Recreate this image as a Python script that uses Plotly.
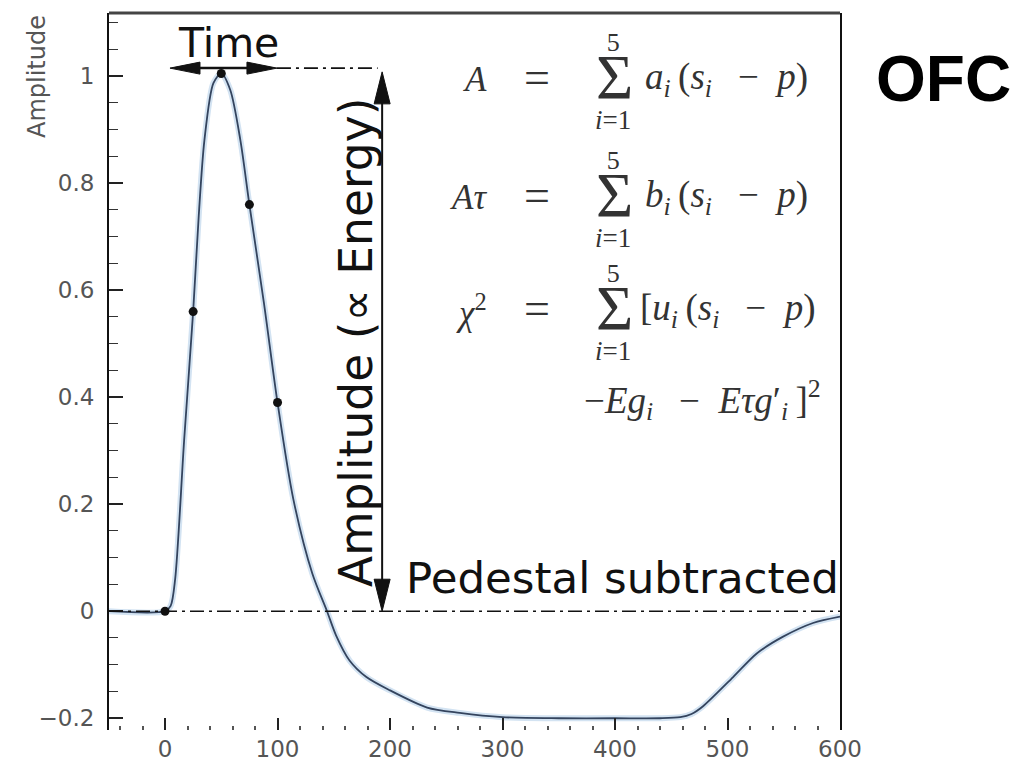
import plotly.graph_objects as go

# Pulse shape (time in ns, normalised amplitude)
pulse_t = [-50, 0, 5, 9, 17, 25, 30, 35, 43, 50, 58, 67, 75, 88, 100,
           114, 131, 144, 152, 164, 179, 200, 233, 262, 300, 350, 400, 440,
           458, 468, 478, 505, 526, 549, 576, 600]
pulse_amp = [0, 0, 0.01, 0.06, 0.32, 0.56, 0.74, 0.88, 0.987,
             1.005, 0.974, 0.88, 0.76, 0.575, 0.39, 0.21, 0.07, 0.0, -0.045,
             -0.092, -0.123, -0.148, -0.18, -0.19, -0.198, -0.2, -0.2, -0.2,
             -0.198, -0.192, -0.178, -0.123, -0.079, -0.048, -0.022, -0.01]

# The five digitised samples
sample_t = [0, 25, 50, 75, 100]
sample_amp = [0, 0.56, 1.005, 0.76, 0.39]

x_tickvals = [0, 100, 200, 300, 400, 500, 600]
x_ticktext = ["0", "100", "200", "300", "400", "500", "600"]
y_tickvals = [-0.2, 0, 0.2, 0.4, 0.6, 0.8, 1]
y_ticktext = ["\u22120.2", "0", "0.2", "0.4", "0.6", "0.8", "1"]

X_RANGE = [-49.8, 600]
Y_RANGE = [-0.222, 1.118]

# Annotation geometry (data units)
ARROW_X = 193          # vertical amplitude arrow
PEAK_LEVEL = 1.015     # horizontal time arrow / dash-dot guide
TIME_LEFT, TIME_RIGHT = 4.4, 99.5

W, H = 1017, 763
L, R, T, B = 109, 840, 13, 730


def px(x):
    return (x - L) / (R - L)


def py(y):
    return (B - y) / (B - T)


INK = "#111111"
EQ = "#333333"
SANS = "DejaVu Sans"
SERIF = "Liberation Serif"

fig = go.Figure()

# soft halo under the pulse
fig.add_trace(go.Scatter(x=pulse_t, y=pulse_amp, mode="lines",
                         line=dict(color="#d3e3f2", width=6, shape="spline",
                                   smoothing=0.8),
                         hoverinfo="skip", showlegend=False))
fig.add_trace(go.Scatter(x=pulse_t, y=pulse_amp, mode="lines",
                         line=dict(color="#34445e", width=1.8, shape="spline",
                                   smoothing=0.8),
                         showlegend=False))
fig.add_trace(go.Scatter(x=sample_t, y=sample_amp, mode="markers",
                         marker=dict(color="#111111", size=9),
                         showlegend=False))

DASHDOT = "14px,5px,3px,5px"
shapes = [
    # top frame edge
    dict(type="line", xref="paper", yref="paper", x0=0, x1=1, y0=1, y1=1,
         line=dict(color="#444444", width=3)),
    # pedestal level
    dict(type="line", xref="x", yref="y", x0=X_RANGE[0], x1=600, y0=0, y1=0,
         line=dict(color=INK, width=1.6, dash=DASHDOT)),
    # peak level guide
    dict(type="line", xref="x", yref="y", x0=TIME_RIGHT, x1=ARROW_X - 4,
         y0=PEAK_LEVEL, y1=PEAK_LEVEL,
         line=dict(color=INK, width=1.6, dash=DASHDOT)),
    # time arrow shaft
    dict(type="line", xref="x", yref="y", x0=TIME_LEFT + 20, x1=TIME_RIGHT - 20,
         y0=PEAK_LEVEL, y1=PEAK_LEVEL, line=dict(color=INK, width=2.5)),
    # amplitude arrow shaft
    dict(type="line", xref="x", yref="y", x0=ARROW_X, x1=ARROW_X,
         y0=0.04, y1=0.97, line=dict(color=INK, width=2)),
]

# arrow heads, sized in pixels around their tips
heads = [
    (TIME_LEFT, PEAK_LEVEL, "M0,0 L30,6 L30,-6 Z"),
    (TIME_RIGHT, PEAK_LEVEL, "M0,0 L-30,6 L-30,-6 Z"),
    (ARROW_X, 1.008, "M0,0 L-8,-32 L8,-32 Z"),
    (ARROW_X, 0.0, "M0,0 L-8,32 L8,32 Z"),
]
for hx, hy, path in heads:
    shapes.append(dict(type="path", xref="x", yref="y", xsizemode="pixel",
                       ysizemode="pixel", xanchor=hx, yanchor=hy, path=path,
                       fillcolor=INK, line=dict(color=INK, width=1)))

ann = []


def text(x, y, s, size, family=SANS, color=INK, xanchor="center",
         angle=0, **kw):
    ann.append(dict(xref="paper", yref="paper", x=px(x), y=py(y), text=s,
                    showarrow=False, xanchor=xanchor, yanchor="middle",
                    textangle=angle,
                    font=dict(family=family, size=size, color=color), **kw))


text(228, 43, "Time", 41)
text(356, 343, "Amplitude (\u221d Energy)", 45.5, angle=-90)
text(404, 578, "Pedestal subtracted", 43.5, xanchor="left")
text(943, 79, "<b>OFC</b>", 64, family="Liberation Sans", color="#000000")
text(37, 77, "Amplitude", 24, color="#555555", angle=-90)

# estimator formulas
MINUS = "\u2002\u2212\u2002"
SUB_I = "<sub><i>i</i></sub>\u2009"
rows = [
    (80, "<i>A</i>", f"<i>a</i>{SUB_I}(<i>s</i>{SUB_I}{MINUS}<i>p</i>)", 643),
    (197, "<i>A\u03c4</i>", f"<i>b</i>{SUB_I}(<i>s</i>{SUB_I}{MINUS}<i>p</i>)", 643),
    (310, "<i>\u03c7</i><sup>2</sup>", f"[<i>u</i>{SUB_I}(<i>s</i>{SUB_I}{MINUS}<i>p</i>)", 638),
]
# summation limits: upper bound, blank line for the sigma, lower bound
LIMITS = ("<span style='font-size:26px'>5</span><br>\u00a0<br>"
          "<span style='font-size:27px'><i>i</i>=1</span>")
for yy, lhs, rhs, rx in rows:
    text(489, yy, lhs, 35, family=SERIF, color=EQ, xanchor="right")
    text(537, yy - 2, "=", 46, family=SERIF, color=EQ)
    text(614, yy - 2, "\u03a3", 64, family=SERIF, color=EQ)
    text(613, yy + 2, LIMITS, 30, family=SERIF, color=EQ)
    text(rx, yy, rhs, 37, family=SERIF, color=EQ, xanchor="left")
text(582, 400, f"\u2212<i>Eg</i>{SUB_I}{MINUS}<i>E\u03c4g</i>\u2032{SUB_I}]<sup>2</sup>",
     37, family=SERIF, color=EQ, xanchor="left")

fig.update_layout(
    width=W, height=H,
    margin=dict(l=L, r=W - R, t=T, b=H - B, autoexpand=False),
    paper_bgcolor="white", plot_bgcolor="white",
    shapes=shapes, annotations=ann,
    xaxis=dict(range=X_RANGE, showgrid=False, zeroline=False, showline=False,
               automargin=False,
               tickvals=x_tickvals, ticktext=x_ticktext, ticks="inside",
               ticklen=12, tickwidth=1.5, tickcolor="#222222",
               ticklabelstandoff=3,
               tickfont=dict(family=SANS, size=23, color="#555555"),
               minor=dict(dtick=20, tick0=0, ticks="inside", ticklen=4,
                          tickwidth=1.5, tickcolor="#555555")),
    yaxis=dict(range=Y_RANGE, showgrid=False, zeroline=False, showline=True,
               automargin=False,
               linecolor="#111111", linewidth=2, mirror=True,
               tickvals=y_tickvals, ticktext=y_ticktext, ticks="inside",
               ticklen=14, tickwidth=1.5, tickcolor="#222222",
               ticklabelstandoff=8,
               tickfont=dict(family=SANS, size=23, color="#555555"),
               minor=dict(dtick=0.05, tick0=0, ticks="inside", ticklen=9,
                          tickwidth=1.2, tickcolor="#333333")),
)

fig.write_html("out.html")
